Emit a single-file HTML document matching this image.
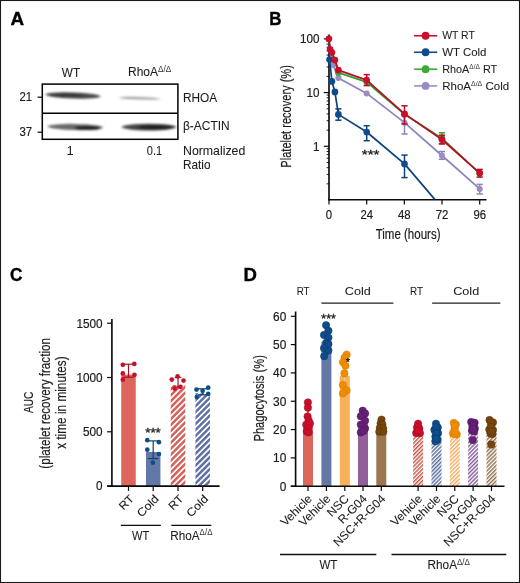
<!DOCTYPE html>
<html lang="en">
<head>
<meta charset="utf-8">
<title>Figure</title>
<style>
html,body{margin:0;padding:0;background:#fff;}
body{width:520px;height:583px;overflow:hidden;}
svg{display:block;font-family:'Liberation Sans', sans-serif;}
</style>
</head>
<body>
<svg width="520" height="583" viewBox="0 0 520 583">
<defs>
<filter id="b1" x="-20%" y="-100%" width="140%" height="300%"><feGaussianBlur stdDeviation="1.6 1.0"/></filter>
<filter id="b2" x="-20%" y="-100%" width="140%" height="300%"><feGaussianBlur stdDeviation="2.2 1.2"/></filter>
<pattern id="hR" width="4.2" height="4.2" patternUnits="userSpaceOnUse" patternTransform="rotate(-45)"><rect width="4.2" height="4.2" fill="#fff"/><rect y="0" width="4.2" height="2.5" fill="#d4645c"/></pattern>
<pattern id="hB" width="4.2" height="4.2" patternUnits="userSpaceOnUse" patternTransform="rotate(-45)"><rect width="4.2" height="4.2" fill="#fff"/><rect y="0" width="4.2" height="2.5" fill="#5f72a3"/></pattern>
<pattern id="dR" width="2.75" height="2.75" patternUnits="userSpaceOnUse" patternTransform="rotate(-45)"><rect width="2.75" height="2.75" fill="#fff"/><rect y="0" width="2.75" height="1.45" fill="#c9554b"/></pattern>
<pattern id="dB" width="2.75" height="2.75" patternUnits="userSpaceOnUse" patternTransform="rotate(-45)"><rect width="2.75" height="2.75" fill="#fff"/><rect y="0" width="2.75" height="1.45" fill="#5a6c9e"/></pattern>
<pattern id="dO" width="2.75" height="2.75" patternUnits="userSpaceOnUse" patternTransform="rotate(-45)"><rect width="2.75" height="2.75" fill="#fff"/><rect y="0" width="2.75" height="1.45" fill="#f3ae60"/></pattern>
<pattern id="dV" width="2.75" height="2.75" patternUnits="userSpaceOnUse" patternTransform="rotate(-45)"><rect width="2.75" height="2.75" fill="#fff"/><rect y="0" width="2.75" height="1.45" fill="#8a5f9b"/></pattern>
<pattern id="dN" width="2.75" height="2.75" patternUnits="userSpaceOnUse" patternTransform="rotate(-45)"><rect width="2.75" height="2.75" fill="#fff"/><rect y="0" width="2.75" height="1.45" fill="#957350"/></pattern>
</defs>
<rect x="0.00" y="0.00" width="520.00" height="583.00" fill="#fff" />
<rect x="0.50" y="0.50" width="519.00" height="582.00" fill="none" stroke="#1a1a1a" stroke-width="1.1" />
<text x="10.60" y="25.00" font-size="18" textLength="13.60" lengthAdjust="spacingAndGlyphs" font-weight="bold" fill="#000" stroke="#000" stroke-width="0.4">A</text>
<text x="269.20" y="24.90" font-size="18" textLength="12.20" lengthAdjust="spacingAndGlyphs" font-weight="bold" fill="#000" stroke="#000" stroke-width="0.35">B</text>
<text x="10.00" y="280.80" font-size="18" textLength="12.40" lengthAdjust="spacingAndGlyphs" font-weight="bold" fill="#000" stroke="#000" stroke-width="0.35">C</text>
<text x="243.50" y="280.80" font-size="18" textLength="13.40" lengthAdjust="spacingAndGlyphs" font-weight="bold" fill="#000" stroke="#000" stroke-width="0.35">D</text>
<rect x="42.30" y="84.10" width="135.60" height="55.20" fill="#fff" stroke="#000" stroke-width="1.5" />
<line x1="42.30" y1="113.20" x2="177.90" y2="113.20" stroke="#000" stroke-width="1.5" />
<g filter="url(#b1)">
<ellipse cx="73.0" cy="95.5" rx="27.5" ry="3.1" fill="#4a4a4a" transform="rotate(2 73 95.5)"/>
<ellipse cx="66" cy="95.2" rx="17" ry="2.0" fill="#333" opacity="0.7"/>
<ellipse cx="75.3" cy="127.0" rx="27.5" ry="3.1" fill="#6a6a6a" transform="rotate(1.2 75.3 127)"/>
<ellipse cx="87.5" cy="127.9" rx="13" ry="2.2" fill="#222"/>
<ellipse cx="149" cy="127.1" rx="27" ry="3.3" fill="#444"/>
<ellipse cx="156" cy="127.3" rx="18" ry="2.4" fill="#1c1c1c" opacity="0.8"/>
</g>
<g filter="url(#b2)">
<ellipse cx="139.5" cy="98.3" rx="20" ry="1.3" fill="#a8a8a8" transform="rotate(1.8 139.5 98.3)"/>
<ellipse cx="130" cy="97.9" rx="9" ry="1.1" fill="#999" opacity="0.5"/>
</g>
<text x="71.00" y="76.60" font-size="12.2" text-anchor="middle" textLength="18.30" lengthAdjust="spacingAndGlyphs" fill="#1c1c1c" stroke="#1c1c1c" stroke-width="0.07">WT</text>
<text x="128.00" y="76.40" font-size="12.0" textLength="43.30" lengthAdjust="spacingAndGlyphs" fill="#1c1c1c" stroke="#1c1c1c" stroke-width="0.07">RhoA<tspan font-size="8.2" dy="-4.2" stroke-width="0" fill="#333">Δ/Δ</tspan></text>
<text x="32.20" y="101.40" font-size="12.3" text-anchor="end" textLength="12.70" lengthAdjust="spacingAndGlyphs" fill="#1c1c1c" stroke="#1c1c1c" stroke-width="0.15">21</text>
<text x="32.20" y="136.40" font-size="12.3" text-anchor="end" textLength="12.70" lengthAdjust="spacingAndGlyphs" fill="#1c1c1c" stroke="#1c1c1c" stroke-width="0.15">37</text>
<line x1="37.60" y1="97.20" x2="42.30" y2="97.20" stroke="#000" stroke-width="1.2" />
<line x1="37.60" y1="132.20" x2="42.30" y2="132.20" stroke="#000" stroke-width="1.2" />
<text x="183.00" y="102.30" font-size="12.2" textLength="34.20" lengthAdjust="spacingAndGlyphs" fill="#1c1c1c" stroke="#1c1c1c" stroke-width="0.07">RHOA</text>
<text x="183.00" y="130.30" font-size="12.2" textLength="46.70" lengthAdjust="spacingAndGlyphs" fill="#1c1c1c" stroke="#1c1c1c" stroke-width="0.07">β-ACTIN</text>
<text x="70.20" y="154.70" font-size="12.3" text-anchor="middle" fill="#1c1c1c" stroke="#1c1c1c" stroke-width="0.07">1</text>
<text x="154.50" y="154.70" font-size="12.3" text-anchor="middle" textLength="15.30" lengthAdjust="spacingAndGlyphs" fill="#1c1c1c" stroke="#1c1c1c" stroke-width="0.07">0.1</text>
<text x="183.00" y="154.60" font-size="12.2" textLength="62.30" lengthAdjust="spacingAndGlyphs" fill="#1c1c1c" stroke="#1c1c1c" stroke-width="0.07">Normalized</text>
<text x="183.00" y="168.90" font-size="12.2" textLength="27.50" lengthAdjust="spacingAndGlyphs" fill="#1c1c1c" stroke="#1c1c1c" stroke-width="0.07">Ratio</text>
<line x1="329.00" y1="34.50" x2="329.00" y2="200.40" stroke="#0a0a0a" stroke-width="1.65" />
<line x1="328.30" y1="199.70" x2="486.50" y2="199.70" stroke="#0a0a0a" stroke-width="1.65" />
<line x1="323.80" y1="38.90" x2="329.00" y2="38.90" stroke="#0a0a0a" stroke-width="1.2" />
<line x1="323.80" y1="92.60" x2="329.00" y2="92.60" stroke="#0a0a0a" stroke-width="1.2" />
<line x1="323.80" y1="146.30" x2="329.00" y2="146.30" stroke="#0a0a0a" stroke-width="1.2" />
<line x1="326.60" y1="183.83" x2="329.00" y2="183.83" stroke="#0a0a0a" stroke-width="0.9" />
<line x1="326.60" y1="174.38" x2="329.00" y2="174.38" stroke="#0a0a0a" stroke-width="0.9" />
<line x1="326.60" y1="167.67" x2="329.00" y2="167.67" stroke="#0a0a0a" stroke-width="0.9" />
<line x1="326.60" y1="162.47" x2="329.00" y2="162.47" stroke="#0a0a0a" stroke-width="0.9" />
<line x1="326.60" y1="158.21" x2="329.00" y2="158.21" stroke="#0a0a0a" stroke-width="0.9" />
<line x1="326.60" y1="154.62" x2="329.00" y2="154.62" stroke="#0a0a0a" stroke-width="0.9" />
<line x1="326.60" y1="151.50" x2="329.00" y2="151.50" stroke="#0a0a0a" stroke-width="0.9" />
<line x1="326.60" y1="148.76" x2="329.00" y2="148.76" stroke="#0a0a0a" stroke-width="0.9" />
<line x1="326.60" y1="130.13" x2="329.00" y2="130.13" stroke="#0a0a0a" stroke-width="0.9" />
<line x1="326.60" y1="120.68" x2="329.00" y2="120.68" stroke="#0a0a0a" stroke-width="0.9" />
<line x1="326.60" y1="113.97" x2="329.00" y2="113.97" stroke="#0a0a0a" stroke-width="0.9" />
<line x1="326.60" y1="108.77" x2="329.00" y2="108.77" stroke="#0a0a0a" stroke-width="0.9" />
<line x1="326.60" y1="104.51" x2="329.00" y2="104.51" stroke="#0a0a0a" stroke-width="0.9" />
<line x1="326.60" y1="100.92" x2="329.00" y2="100.92" stroke="#0a0a0a" stroke-width="0.9" />
<line x1="326.60" y1="97.80" x2="329.00" y2="97.80" stroke="#0a0a0a" stroke-width="0.9" />
<line x1="326.60" y1="95.06" x2="329.00" y2="95.06" stroke="#0a0a0a" stroke-width="0.9" />
<line x1="326.60" y1="76.43" x2="329.00" y2="76.43" stroke="#0a0a0a" stroke-width="0.9" />
<line x1="326.60" y1="66.98" x2="329.00" y2="66.98" stroke="#0a0a0a" stroke-width="0.9" />
<line x1="326.60" y1="60.27" x2="329.00" y2="60.27" stroke="#0a0a0a" stroke-width="0.9" />
<line x1="326.60" y1="55.07" x2="329.00" y2="55.07" stroke="#0a0a0a" stroke-width="0.9" />
<line x1="326.60" y1="50.81" x2="329.00" y2="50.81" stroke="#0a0a0a" stroke-width="0.9" />
<line x1="326.60" y1="47.22" x2="329.00" y2="47.22" stroke="#0a0a0a" stroke-width="0.9" />
<line x1="326.60" y1="44.10" x2="329.00" y2="44.10" stroke="#0a0a0a" stroke-width="0.9" />
<line x1="326.60" y1="41.36" x2="329.00" y2="41.36" stroke="#0a0a0a" stroke-width="0.9" />
<line x1="329.00" y1="199.70" x2="329.00" y2="204.50" stroke="#0a0a0a" stroke-width="1.2" />
<text x="329.00" y="219.00" font-size="12.6" text-anchor="middle" textLength="6.30" lengthAdjust="spacingAndGlyphs" fill="#1c1c1c" stroke="#1c1c1c" stroke-width="0.2">0</text>
<line x1="366.68" y1="199.70" x2="366.68" y2="204.50" stroke="#0a0a0a" stroke-width="1.2" />
<text x="366.68" y="219.00" font-size="12.6" text-anchor="middle" textLength="12.60" lengthAdjust="spacingAndGlyphs" fill="#1c1c1c" stroke="#1c1c1c" stroke-width="0.2">24</text>
<line x1="404.35" y1="199.70" x2="404.35" y2="204.50" stroke="#0a0a0a" stroke-width="1.2" />
<text x="404.35" y="219.00" font-size="12.6" text-anchor="middle" textLength="12.60" lengthAdjust="spacingAndGlyphs" fill="#1c1c1c" stroke="#1c1c1c" stroke-width="0.2">48</text>
<line x1="442.02" y1="199.70" x2="442.02" y2="204.50" stroke="#0a0a0a" stroke-width="1.2" />
<text x="442.02" y="219.00" font-size="12.6" text-anchor="middle" textLength="12.60" lengthAdjust="spacingAndGlyphs" fill="#1c1c1c" stroke="#1c1c1c" stroke-width="0.2">72</text>
<line x1="479.70" y1="199.70" x2="479.70" y2="204.50" stroke="#0a0a0a" stroke-width="1.2" />
<text x="479.70" y="219.00" font-size="12.6" text-anchor="middle" textLength="12.60" lengthAdjust="spacingAndGlyphs" fill="#1c1c1c" stroke="#1c1c1c" stroke-width="0.2">96</text>
<text x="319.40" y="43.20" font-size="12.4" text-anchor="end" textLength="19.50" lengthAdjust="spacingAndGlyphs" fill="#1c1c1c" stroke="#1c1c1c" stroke-width="0.2">100</text>
<text x="319.40" y="96.90" font-size="12.4" text-anchor="end" textLength="13.00" lengthAdjust="spacingAndGlyphs" fill="#1c1c1c" stroke="#1c1c1c" stroke-width="0.2">10</text>
<text x="319.40" y="150.60" font-size="12.4" text-anchor="end" textLength="6.50" lengthAdjust="spacingAndGlyphs" fill="#1c1c1c" stroke="#1c1c1c" stroke-width="0.2">1</text>
<text x="291.00" y="116.40" font-size="14.3" text-anchor="middle" textLength="102.50" lengthAdjust="spacingAndGlyphs" fill="#1c1c1c" stroke="#1c1c1c" stroke-width="0.2" transform="rotate(-90 291.00 116.40)">Platelet recovery (%)</text>
<text x="408.10" y="238.60" font-size="14.3" text-anchor="middle" textLength="64.80" lengthAdjust="spacingAndGlyphs" fill="#1c1c1c" stroke="#1c1c1c" stroke-width="0.2">Time (hours)</text>
<polyline points="328.90,38.80 330.10,49.30 331.90,54.00 333.10,65.10 338.40,78.10 366.70,93.40 404.50,122.70 441.90,155.50 479.70,188.90" fill="none" stroke="#9082bc" stroke-width="1.7" stroke-linejoin="round"/>
<line x1="404.50" y1="114.50" x2="404.50" y2="134.00" stroke="#9082bc" stroke-width="1.5" />
<line x1="401.40" y1="114.50" x2="407.60" y2="114.50" stroke="#9082bc" stroke-width="1.5" />
<line x1="401.40" y1="134.00" x2="407.60" y2="134.00" stroke="#9082bc" stroke-width="1.5" />
<line x1="441.90" y1="151.50" x2="441.90" y2="159.30" stroke="#9082bc" stroke-width="1.5" />
<line x1="438.80" y1="151.50" x2="445.00" y2="151.50" stroke="#9082bc" stroke-width="1.5" />
<line x1="438.80" y1="159.30" x2="445.00" y2="159.30" stroke="#9082bc" stroke-width="1.5" />
<line x1="479.70" y1="184.40" x2="479.70" y2="193.90" stroke="#9082bc" stroke-width="1.5" />
<line x1="476.60" y1="184.40" x2="482.80" y2="184.40" stroke="#9082bc" stroke-width="1.5" />
<line x1="476.60" y1="193.90" x2="482.80" y2="193.90" stroke="#9082bc" stroke-width="1.5" />
<circle cx="333.10" cy="65.10" r="3.0" fill="#9b8bc4" />
<circle cx="338.40" cy="78.10" r="3.0" fill="#9b8bc4" />
<circle cx="366.70" cy="93.40" r="3.0" fill="#9b8bc4" />
<circle cx="404.50" cy="122.70" r="3.0" fill="#9b8bc4" />
<circle cx="441.90" cy="155.50" r="3.0" fill="#9b8bc4" />
<circle cx="479.70" cy="188.90" r="3.0" fill="#9b8bc4" />
<polyline points="328.90,38.80 329.60,59.60 331.90,81.40 334.90,91.90 338.40,114.40 366.70,132.00 404.50,163.90 434.80,199.40" fill="none" stroke="#0d437c" stroke-width="1.7" stroke-linejoin="round"/>
<line x1="338.40" y1="108.90" x2="338.40" y2="120.20" stroke="#0d437c" stroke-width="1.5" />
<line x1="335.30" y1="108.90" x2="341.50" y2="108.90" stroke="#0d437c" stroke-width="1.5" />
<line x1="335.30" y1="120.20" x2="341.50" y2="120.20" stroke="#0d437c" stroke-width="1.5" />
<line x1="366.70" y1="125.70" x2="366.70" y2="140.70" stroke="#0d437c" stroke-width="1.5" />
<line x1="363.60" y1="125.70" x2="369.80" y2="125.70" stroke="#0d437c" stroke-width="1.5" />
<line x1="363.60" y1="140.70" x2="369.80" y2="140.70" stroke="#0d437c" stroke-width="1.5" />
<line x1="404.50" y1="155.10" x2="404.50" y2="177.60" stroke="#0d437c" stroke-width="1.5" />
<line x1="401.40" y1="155.10" x2="407.60" y2="155.10" stroke="#0d437c" stroke-width="1.5" />
<line x1="401.40" y1="177.60" x2="407.60" y2="177.60" stroke="#0d437c" stroke-width="1.5" />
<circle cx="329.60" cy="59.60" r="3.35" fill="#0f4c8a" />
<circle cx="331.90" cy="81.40" r="3.35" fill="#0f4c8a" />
<circle cx="334.90" cy="91.90" r="3.35" fill="#0f4c8a" />
<circle cx="338.40" cy="114.40" r="3.35" fill="#0f4c8a" />
<circle cx="366.70" cy="132.00" r="3.35" fill="#0f4c8a" />
<circle cx="404.50" cy="163.90" r="3.35" fill="#0f4c8a" />
<polyline points="328.90,38.80 330.10,49.30 331.90,52.60 334.90,60.10 338.40,72.60 366.70,82.10 404.50,114.30 441.90,138.20 479.70,173.30" fill="none" stroke="#329f2f" stroke-width="1.7" stroke-linejoin="round"/>
<line x1="441.90" y1="132.80" x2="441.90" y2="143.50" stroke="#329f2f" stroke-width="1.5" />
<line x1="438.80" y1="132.80" x2="445.00" y2="132.80" stroke="#329f2f" stroke-width="1.5" />
<line x1="438.80" y1="143.50" x2="445.00" y2="143.50" stroke="#329f2f" stroke-width="1.5" />
<circle cx="338.40" cy="72.60" r="3.35" fill="#3aaa35" />
<circle cx="366.70" cy="82.10" r="3.35" fill="#3aaa35" />
<circle cx="404.50" cy="114.30" r="3.35" fill="#3aaa35" />
<circle cx="441.90" cy="138.20" r="3.35" fill="#3aaa35" />
<circle cx="479.70" cy="173.30" r="3.35" fill="#3aaa35" />
<polyline points="328.90,38.80 330.10,49.30 331.90,52.60 334.90,60.10 338.40,70.10 366.70,80.10 404.50,113.90 441.90,139.50 479.70,173.10" fill="none" stroke="#b60e27" stroke-width="1.7" stroke-linejoin="round"/>
<line x1="366.70" y1="74.60" x2="366.70" y2="85.60" stroke="#b60e27" stroke-width="1.5" />
<line x1="363.60" y1="74.60" x2="369.80" y2="74.60" stroke="#b60e27" stroke-width="1.5" />
<line x1="363.60" y1="85.60" x2="369.80" y2="85.60" stroke="#b60e27" stroke-width="1.5" />
<line x1="404.50" y1="105.80" x2="404.50" y2="124.00" stroke="#b60e27" stroke-width="1.5" />
<line x1="401.40" y1="105.80" x2="407.60" y2="105.80" stroke="#b60e27" stroke-width="1.5" />
<line x1="401.40" y1="124.00" x2="407.60" y2="124.00" stroke="#b60e27" stroke-width="1.5" />
<line x1="441.90" y1="135.20" x2="441.90" y2="144.00" stroke="#b60e27" stroke-width="1.5" />
<line x1="438.80" y1="135.20" x2="445.00" y2="135.20" stroke="#b60e27" stroke-width="1.5" />
<line x1="438.80" y1="144.00" x2="445.00" y2="144.00" stroke="#b60e27" stroke-width="1.5" />
<line x1="479.70" y1="169.40" x2="479.70" y2="177.10" stroke="#b60e27" stroke-width="1.5" />
<line x1="476.60" y1="169.40" x2="482.80" y2="169.40" stroke="#b60e27" stroke-width="1.5" />
<line x1="476.60" y1="177.10" x2="482.80" y2="177.10" stroke="#b60e27" stroke-width="1.5" />
<circle cx="328.90" cy="38.80" r="3.35" fill="#cb0f2b" />
<circle cx="330.10" cy="49.30" r="3.35" fill="#cb0f2b" />
<circle cx="331.90" cy="52.60" r="3.35" fill="#cb0f2b" />
<circle cx="334.90" cy="60.10" r="3.35" fill="#cb0f2b" />
<circle cx="338.40" cy="70.10" r="3.35" fill="#cb0f2b" />
<circle cx="366.70" cy="80.10" r="3.35" fill="#cb0f2b" />
<circle cx="404.50" cy="113.90" r="3.35" fill="#cb0f2b" />
<circle cx="441.90" cy="139.50" r="3.35" fill="#cb0f2b" />
<circle cx="479.70" cy="173.10" r="3.35" fill="#cb0f2b" />
<text x="370.60" y="159.20" font-size="12.5" text-anchor="middle" textLength="17.70" lengthAdjust="spacingAndGlyphs" fill="#1c1c1c" stroke="#1c1c1c" stroke-width="0.3">***</text>
<line x1="414.10" y1="35.75" x2="437.20" y2="35.75" stroke="#cb0f2b" stroke-width="1.6" />
<circle cx="425.60" cy="35.75" r="3.9" fill="#cb0f2b" />
<text x="442.20" y="39.35" font-size="11.6" textLength="32.60" lengthAdjust="spacingAndGlyphs" fill="#1c1c1c" stroke="#1c1c1c" stroke-width="0.07">WT RT</text>
<line x1="414.10" y1="52.25" x2="437.20" y2="52.25" stroke="#0f4c8a" stroke-width="1.6" />
<circle cx="425.60" cy="52.25" r="3.9" fill="#0f4c8a" />
<text x="442.20" y="55.85" font-size="11.6" textLength="44.20" lengthAdjust="spacingAndGlyphs" fill="#1c1c1c" stroke="#1c1c1c" stroke-width="0.07">WT Cold</text>
<line x1="414.10" y1="69.20" x2="437.20" y2="69.20" stroke="#3aaa35" stroke-width="1.6" />
<circle cx="425.60" cy="69.20" r="3.9" fill="#3aaa35" />
<text x="442.20" y="72.80" font-size="11.6" textLength="55.00" lengthAdjust="spacingAndGlyphs" fill="#1c1c1c" stroke="#1c1c1c" stroke-width="0.07">RhoA<tspan font-size="7.0" dy="-4.0" stroke-width="0" fill="#333">Δ/Δ</tspan><tspan dy="4.0"> RT</tspan></text>
<line x1="414.10" y1="85.90" x2="437.20" y2="85.90" stroke="#9b8bc4" stroke-width="1.6" />
<circle cx="425.60" cy="85.90" r="3.9" fill="#9b8bc4" />
<text x="442.20" y="89.50" font-size="11.6" textLength="66.90" lengthAdjust="spacingAndGlyphs" fill="#1c1c1c" stroke="#1c1c1c" stroke-width="0.07">RhoA<tspan font-size="7.0" dy="-4.0" stroke-width="0" fill="#333">Δ/Δ</tspan><tspan dy="4.0"> Cold</tspan></text>
<rect x="121.25" y="374.60" width="14.50" height="111.50" fill="#dc665c" />
<rect x="145.95" y="452.00" width="14.50" height="34.10" fill="#6478a8" />
<rect x="170.75" y="385.00" width="14.50" height="101.10" fill="url(#hR)" />
<rect x="195.45" y="393.20" width="14.50" height="92.90" fill="url(#hB)" />
<line x1="111.90" y1="318.90" x2="111.90" y2="486.80" stroke="#0a0a0a" stroke-width="1.65" />
<line x1="107.30" y1="486.10" x2="219.60" y2="486.10" stroke="#0a0a0a" stroke-width="1.65" />
<line x1="107.10" y1="486.10" x2="111.90" y2="486.10" stroke="#0a0a0a" stroke-width="1.2" />
<text x="102.60" y="490.40" font-size="12.4" text-anchor="end" textLength="6.55" lengthAdjust="spacingAndGlyphs" fill="#1c1c1c" stroke="#1c1c1c" stroke-width="0.2">0</text>
<line x1="107.10" y1="431.80" x2="111.90" y2="431.80" stroke="#0a0a0a" stroke-width="1.2" />
<text x="102.60" y="436.10" font-size="12.4" text-anchor="end" textLength="19.65" lengthAdjust="spacingAndGlyphs" fill="#1c1c1c" stroke="#1c1c1c" stroke-width="0.2">500</text>
<line x1="107.10" y1="377.50" x2="111.90" y2="377.50" stroke="#0a0a0a" stroke-width="1.2" />
<text x="102.60" y="381.80" font-size="12.4" text-anchor="end" textLength="26.20" lengthAdjust="spacingAndGlyphs" fill="#1c1c1c" stroke="#1c1c1c" stroke-width="0.2">1000</text>
<line x1="107.10" y1="323.20" x2="111.90" y2="323.20" stroke="#0a0a0a" stroke-width="1.2" />
<text x="102.60" y="327.50" font-size="12.4" text-anchor="end" textLength="26.20" lengthAdjust="spacingAndGlyphs" fill="#1c1c1c" stroke="#1c1c1c" stroke-width="0.2">1500</text>
<line x1="128.50" y1="486.10" x2="128.50" y2="490.90" stroke="#0a0a0a" stroke-width="1.2" />
<line x1="153.20" y1="486.10" x2="153.20" y2="490.90" stroke="#0a0a0a" stroke-width="1.2" />
<line x1="178.00" y1="486.10" x2="178.00" y2="490.90" stroke="#0a0a0a" stroke-width="1.2" />
<line x1="202.70" y1="486.10" x2="202.70" y2="490.90" stroke="#0a0a0a" stroke-width="1.2" />
<line x1="128.50" y1="364.20" x2="128.50" y2="377.20" stroke="#a3122a" stroke-width="1.2" />
<line x1="123.30" y1="364.20" x2="133.70" y2="364.20" stroke="#a3122a" stroke-width="1.2" />
<line x1="123.30" y1="377.20" x2="133.70" y2="377.20" stroke="#a3122a" stroke-width="1.2" />
<circle cx="122.80" cy="364.80" r="2.35" fill="#cb0f2b" />
<circle cx="134.30" cy="363.90" r="2.35" fill="#cb0f2b" />
<circle cx="122.80" cy="373.40" r="2.35" fill="#cb0f2b" />
<circle cx="134.50" cy="374.80" r="2.35" fill="#cb0f2b" />
<circle cx="122.80" cy="379.70" r="2.35" fill="#cb0f2b" />
<line x1="153.20" y1="440.90" x2="153.20" y2="458.60" stroke="#123d70" stroke-width="1.2" />
<line x1="148.00" y1="440.90" x2="158.40" y2="440.90" stroke="#123d70" stroke-width="1.2" />
<line x1="148.00" y1="458.60" x2="158.40" y2="458.60" stroke="#123d70" stroke-width="1.2" />
<circle cx="147.30" cy="440.20" r="2.35" fill="#0f4c8a" />
<circle cx="158.90" cy="442.20" r="2.35" fill="#0f4c8a" />
<circle cx="147.30" cy="449.70" r="2.35" fill="#0f4c8a" />
<circle cx="158.90" cy="454.00" r="2.35" fill="#0f4c8a" />
<circle cx="152.90" cy="462.70" r="2.35" fill="#0f4c8a" />
<line x1="178.00" y1="377.40" x2="178.00" y2="387.00" stroke="#a3122a" stroke-width="1.2" />
<line x1="174.70" y1="377.40" x2="181.30" y2="377.40" stroke="#a3122a" stroke-width="1.2" />
<line x1="174.70" y1="387.00" x2="181.30" y2="387.00" stroke="#a3122a" stroke-width="1.2" />
<circle cx="177.60" cy="376.40" r="2.35" fill="#cb0f2b" />
<circle cx="171.80" cy="379.60" r="2.35" fill="#cb0f2b" />
<circle cx="183.50" cy="380.60" r="2.35" fill="#cb0f2b" />
<circle cx="180.40" cy="386.80" r="2.35" fill="#cb0f2b" />
<circle cx="174.70" cy="388.60" r="2.35" fill="#cb0f2b" />
<line x1="202.70" y1="388.80" x2="202.70" y2="394.80" stroke="#123d70" stroke-width="1.2" />
<line x1="197.50" y1="388.80" x2="207.90" y2="388.80" stroke="#123d70" stroke-width="1.2" />
<line x1="197.50" y1="394.80" x2="207.90" y2="394.80" stroke="#123d70" stroke-width="1.2" />
<circle cx="208.20" cy="387.70" r="2.35" fill="#0f4c8a" />
<circle cx="196.50" cy="389.60" r="2.35" fill="#0f4c8a" />
<circle cx="202.60" cy="390.80" r="2.35" fill="#0f4c8a" />
<circle cx="208.20" cy="393.90" r="2.35" fill="#0f4c8a" />
<circle cx="196.80" cy="397.00" r="2.35" fill="#0f4c8a" />
<text x="153.00" y="437.30" font-size="12" text-anchor="middle" textLength="15.60" lengthAdjust="spacingAndGlyphs" fill="#1c1c1c" stroke="#1c1c1c" stroke-width="0.3">***</text>
<text x="32.70" y="402.40" font-size="13.6" text-anchor="middle" textLength="21.40" lengthAdjust="spacingAndGlyphs" fill="#1c1c1c" stroke="#1c1c1c" stroke-width="0.2" transform="rotate(-90 32.70 402.40)">AUC</text>
<text x="49.90" y="403.40" font-size="14.3" text-anchor="middle" textLength="130.60" lengthAdjust="spacingAndGlyphs" fill="#1c1c1c" stroke="#1c1c1c" stroke-width="0.2" transform="rotate(-90 49.90 403.40)">(platelet recovery fraction</text>
<text x="65.80" y="402.60" font-size="14.3" text-anchor="middle" textLength="92.50" lengthAdjust="spacingAndGlyphs" fill="#1c1c1c" stroke="#1c1c1c" stroke-width="0.2" transform="rotate(-90 65.80 402.60)">x time in minutes)</text>
<text x="134.80" y="499.60" font-size="11.4" text-anchor="end" textLength="15.80" lengthAdjust="spacingAndGlyphs" fill="#1c1c1c" stroke="#1c1c1c" stroke-width="0.1" transform="rotate(-45 134.80 499.60)">RT</text>
<text x="159.50" y="499.60" font-size="11.4" text-anchor="end" textLength="25.60" lengthAdjust="spacingAndGlyphs" fill="#1c1c1c" stroke="#1c1c1c" stroke-width="0.1" transform="rotate(-45 159.50 499.60)">Cold</text>
<text x="184.30" y="499.60" font-size="11.4" text-anchor="end" textLength="15.80" lengthAdjust="spacingAndGlyphs" fill="#1c1c1c" stroke="#1c1c1c" stroke-width="0.1" transform="rotate(-45 184.30 499.60)">RT</text>
<text x="209.00" y="499.60" font-size="11.4" text-anchor="end" textLength="25.60" lengthAdjust="spacingAndGlyphs" fill="#1c1c1c" stroke="#1c1c1c" stroke-width="0.1" transform="rotate(-45 209.00 499.60)">Cold</text>
<line x1="120.80" y1="525.30" x2="160.80" y2="525.30" stroke="#0a0a0a" stroke-width="1.3" />
<line x1="171.30" y1="525.30" x2="211.30" y2="525.30" stroke="#0a0a0a" stroke-width="1.3" />
<text x="140.60" y="539.60" font-size="12.0" text-anchor="middle" textLength="17.20" lengthAdjust="spacingAndGlyphs" fill="#1c1c1c" stroke="#1c1c1c" stroke-width="0.07">WT</text>
<text x="170.30" y="539.60" font-size="12.0" textLength="42.20" lengthAdjust="spacingAndGlyphs" fill="#1c1c1c" stroke="#1c1c1c" stroke-width="0.07">RhoA<tspan font-size="8.2" dy="-4.2" stroke-width="0" fill="#333">Δ/Δ</tspan></text>
<rect x="303.00" y="423.90" width="10.00" height="62.30" fill="#dc665c" />
<rect x="321.40" y="341.77" width="10.00" height="144.43" fill="#6478a8" />
<rect x="339.80" y="375.75" width="10.00" height="110.45" fill="#f8b05a" />
<rect x="358.00" y="423.90" width="10.00" height="62.30" fill="#925f9c" />
<rect x="376.30" y="428.14" width="10.00" height="58.06" fill="#9c7651" />
<rect x="413.10" y="432.39" width="10.00" height="53.81" fill="url(#dR)" />
<rect x="431.50" y="432.39" width="10.00" height="53.81" fill="url(#dB)" />
<rect x="449.80" y="429.56" width="10.00" height="56.64" fill="url(#dO)" />
<rect x="468.10" y="429.56" width="10.00" height="56.64" fill="url(#dV)" />
<rect x="486.50" y="430.98" width="10.00" height="55.22" fill="url(#dN)" />
<line x1="295.60" y1="311.50" x2="295.60" y2="486.90" stroke="#0a0a0a" stroke-width="1.65" />
<line x1="290.80" y1="486.20" x2="504.50" y2="486.20" stroke="#0a0a0a" stroke-width="1.65" />
<line x1="290.80" y1="486.20" x2="295.60" y2="486.20" stroke="#0a0a0a" stroke-width="1.2" />
<text x="286.30" y="490.50" font-size="12.4" text-anchor="end" textLength="6.60" lengthAdjust="spacingAndGlyphs" fill="#1c1c1c" stroke="#1c1c1c" stroke-width="0.2">0</text>
<line x1="290.80" y1="457.88" x2="295.60" y2="457.88" stroke="#0a0a0a" stroke-width="1.2" />
<text x="286.30" y="462.18" font-size="12.4" text-anchor="end" textLength="13.20" lengthAdjust="spacingAndGlyphs" fill="#1c1c1c" stroke="#1c1c1c" stroke-width="0.2">10</text>
<line x1="290.80" y1="429.56" x2="295.60" y2="429.56" stroke="#0a0a0a" stroke-width="1.2" />
<text x="286.30" y="433.86" font-size="12.4" text-anchor="end" textLength="13.20" lengthAdjust="spacingAndGlyphs" fill="#1c1c1c" stroke="#1c1c1c" stroke-width="0.2">20</text>
<line x1="290.80" y1="401.24" x2="295.60" y2="401.24" stroke="#0a0a0a" stroke-width="1.2" />
<text x="286.30" y="405.54" font-size="12.4" text-anchor="end" textLength="13.20" lengthAdjust="spacingAndGlyphs" fill="#1c1c1c" stroke="#1c1c1c" stroke-width="0.2">30</text>
<line x1="290.80" y1="372.92" x2="295.60" y2="372.92" stroke="#0a0a0a" stroke-width="1.2" />
<text x="286.30" y="377.22" font-size="12.4" text-anchor="end" textLength="13.20" lengthAdjust="spacingAndGlyphs" fill="#1c1c1c" stroke="#1c1c1c" stroke-width="0.2">40</text>
<line x1="290.80" y1="344.60" x2="295.60" y2="344.60" stroke="#0a0a0a" stroke-width="1.2" />
<text x="286.30" y="348.90" font-size="12.4" text-anchor="end" textLength="13.20" lengthAdjust="spacingAndGlyphs" fill="#1c1c1c" stroke="#1c1c1c" stroke-width="0.2">50</text>
<line x1="290.80" y1="316.28" x2="295.60" y2="316.28" stroke="#0a0a0a" stroke-width="1.2" />
<text x="286.30" y="320.58" font-size="12.4" text-anchor="end" textLength="13.20" lengthAdjust="spacingAndGlyphs" fill="#1c1c1c" stroke="#1c1c1c" stroke-width="0.2">60</text>
<line x1="308.00" y1="486.20" x2="308.00" y2="491.00" stroke="#0a0a0a" stroke-width="1.2" />
<line x1="326.40" y1="486.20" x2="326.40" y2="491.00" stroke="#0a0a0a" stroke-width="1.2" />
<line x1="344.80" y1="486.20" x2="344.80" y2="491.00" stroke="#0a0a0a" stroke-width="1.2" />
<line x1="363.00" y1="486.20" x2="363.00" y2="491.00" stroke="#0a0a0a" stroke-width="1.2" />
<line x1="381.30" y1="486.20" x2="381.30" y2="491.00" stroke="#0a0a0a" stroke-width="1.2" />
<line x1="418.10" y1="486.20" x2="418.10" y2="491.00" stroke="#0a0a0a" stroke-width="1.2" />
<line x1="436.50" y1="486.20" x2="436.50" y2="491.00" stroke="#0a0a0a" stroke-width="1.2" />
<line x1="454.80" y1="486.20" x2="454.80" y2="491.00" stroke="#0a0a0a" stroke-width="1.2" />
<line x1="473.10" y1="486.20" x2="473.10" y2="491.00" stroke="#0a0a0a" stroke-width="1.2" />
<line x1="491.50" y1="486.20" x2="491.50" y2="491.00" stroke="#0a0a0a" stroke-width="1.2" />
<line x1="308.00" y1="411.00" x2="308.00" y2="433.00" stroke="#cb0f2b" stroke-width="1.2" />
<line x1="326.40" y1="330.00" x2="326.40" y2="352.50" stroke="#0f4c8a" stroke-width="1.2" />
<line x1="344.80" y1="361.00" x2="344.80" y2="390.50" stroke="#fbc888" stroke-width="1.2" />
<line x1="363.00" y1="414.00" x2="363.00" y2="432.50" stroke="#651f76" stroke-width="1.2" />
<line x1="381.30" y1="422.00" x2="381.30" y2="432.00" stroke="#77460f" stroke-width="1.2" />
<circle cx="307.90" cy="402.50" r="3.7" fill="#cb0f2b" stroke="#9c0c22" stroke-width="0.5"/>
<circle cx="307.90" cy="407.70" r="3.7" fill="#cb0f2b" stroke="#9c0c22" stroke-width="0.5"/>
<circle cx="307.60" cy="416.50" r="3.7" fill="#cb0f2b" stroke="#9c0c22" stroke-width="0.5"/>
<circle cx="308.60" cy="420.50" r="3.7" fill="#cb0f2b" stroke="#9c0c22" stroke-width="0.5"/>
<circle cx="306.20" cy="424.60" r="3.7" fill="#cb0f2b" stroke="#9c0c22" stroke-width="0.5"/>
<circle cx="310.00" cy="423.50" r="3.7" fill="#cb0f2b" stroke="#9c0c22" stroke-width="0.5"/>
<circle cx="308.00" cy="428.00" r="3.7" fill="#cb0f2b" stroke="#9c0c22" stroke-width="0.5"/>
<circle cx="306.80" cy="431.50" r="3.7" fill="#cb0f2b" stroke="#9c0c22" stroke-width="0.5"/>
<circle cx="308.60" cy="432.40" r="3.7" fill="#cb0f2b" stroke="#9c0c22" stroke-width="0.5"/>
<circle cx="326.10" cy="325.20" r="3.7" fill="#0f4c8a" stroke="#0a386a" stroke-width="0.5"/>
<circle cx="328.40" cy="330.80" r="3.7" fill="#0f4c8a" stroke="#0a386a" stroke-width="0.5"/>
<circle cx="324.00" cy="335.00" r="3.7" fill="#0f4c8a" stroke="#0a386a" stroke-width="0.5"/>
<circle cx="328.40" cy="337.60" r="3.7" fill="#0f4c8a" stroke="#0a386a" stroke-width="0.5"/>
<circle cx="326.30" cy="342.60" r="3.7" fill="#0f4c8a" stroke="#0a386a" stroke-width="0.5"/>
<circle cx="328.40" cy="344.00" r="3.7" fill="#0f4c8a" stroke="#0a386a" stroke-width="0.5"/>
<circle cx="324.00" cy="348.20" r="3.7" fill="#0f4c8a" stroke="#0a386a" stroke-width="0.5"/>
<circle cx="328.40" cy="350.60" r="3.7" fill="#0f4c8a" stroke="#0a386a" stroke-width="0.5"/>
<circle cx="324.20" cy="356.20" r="3.7" fill="#0f4c8a" stroke="#0a386a" stroke-width="0.5"/>
<circle cx="346.70" cy="354.60" r="3.7" fill="#f08c00" stroke="#d27a00" stroke-width="0.5"/>
<circle cx="344.60" cy="357.60" r="3.7" fill="#f08c00" stroke="#d27a00" stroke-width="0.5"/>
<circle cx="343.00" cy="362.20" r="3.7" fill="#f08c00" stroke="#d27a00" stroke-width="0.5"/>
<circle cx="345.40" cy="365.80" r="3.7" fill="#f08c00" stroke="#d27a00" stroke-width="0.5"/>
<circle cx="344.40" cy="373.30" r="3.7" fill="#f08c00" stroke="#d27a00" stroke-width="0.5"/>
<circle cx="342.90" cy="384.90" r="3.7" fill="#f08c00" stroke="#d27a00" stroke-width="0.5"/>
<circle cx="346.60" cy="390.40" r="3.7" fill="#f08c00" stroke="#d27a00" stroke-width="0.5"/>
<circle cx="342.90" cy="393.40" r="3.7" fill="#f08c00" stroke="#d27a00" stroke-width="0.5"/>
<circle cx="362.70" cy="410.60" r="3.7" fill="#651f76" stroke="#4c1459" stroke-width="0.5"/>
<circle cx="365.10" cy="413.50" r="3.7" fill="#651f76" stroke="#4c1459" stroke-width="0.5"/>
<circle cx="360.80" cy="416.30" r="3.7" fill="#651f76" stroke="#4c1459" stroke-width="0.5"/>
<circle cx="365.10" cy="420.80" r="3.7" fill="#651f76" stroke="#4c1459" stroke-width="0.5"/>
<circle cx="360.80" cy="424.60" r="3.7" fill="#651f76" stroke="#4c1459" stroke-width="0.5"/>
<circle cx="365.10" cy="428.50" r="3.7" fill="#651f76" stroke="#4c1459" stroke-width="0.5"/>
<circle cx="360.80" cy="432.50" r="3.7" fill="#651f76" stroke="#4c1459" stroke-width="0.5"/>
<circle cx="363.50" cy="431.00" r="3.7" fill="#651f76" stroke="#4c1459" stroke-width="0.5"/>
<circle cx="381.50" cy="419.60" r="3.7" fill="#77460f" stroke="#5a340a" stroke-width="0.5"/>
<circle cx="380.60" cy="423.50" r="3.7" fill="#77460f" stroke="#5a340a" stroke-width="0.5"/>
<circle cx="382.40" cy="424.50" r="3.7" fill="#77460f" stroke="#5a340a" stroke-width="0.5"/>
<circle cx="379.80" cy="428.00" r="3.7" fill="#77460f" stroke="#5a340a" stroke-width="0.5"/>
<circle cx="383.20" cy="428.50" r="3.7" fill="#77460f" stroke="#5a340a" stroke-width="0.5"/>
<circle cx="379.30" cy="431.80" r="3.7" fill="#77460f" stroke="#5a340a" stroke-width="0.5"/>
<circle cx="383.40" cy="431.80" r="3.7" fill="#77460f" stroke="#5a340a" stroke-width="0.5"/>
<circle cx="418.10" cy="423.80" r="3.7" fill="#cb0f2b" stroke="#9c0c22" stroke-width="0.5"/>
<circle cx="417.00" cy="427.50" r="3.7" fill="#cb0f2b" stroke="#9c0c22" stroke-width="0.5"/>
<circle cx="419.30" cy="428.50" r="3.7" fill="#cb0f2b" stroke="#9c0c22" stroke-width="0.5"/>
<circle cx="416.20" cy="433.00" r="3.7" fill="#cb0f2b" stroke="#9c0c22" stroke-width="0.5"/>
<circle cx="420.00" cy="433.20" r="3.7" fill="#cb0f2b" stroke="#9c0c22" stroke-width="0.5"/>
<circle cx="418.00" cy="432.00" r="3.7" fill="#cb0f2b" stroke="#9c0c22" stroke-width="0.5"/>
<circle cx="418.10" cy="427.00" r="3.7" fill="#cb0f2b" stroke="#9c0c22" stroke-width="0.5"/>
<circle cx="418.00" cy="430.50" r="3.7" fill="#cb0f2b" stroke="#9c0c22" stroke-width="0.5"/>
<circle cx="436.00" cy="423.80" r="3.7" fill="#0f4c8a" stroke="#0a386a" stroke-width="0.5"/>
<circle cx="437.80" cy="427.50" r="3.7" fill="#0f4c8a" stroke="#0a386a" stroke-width="0.5"/>
<circle cx="434.40" cy="429.80" r="3.7" fill="#0f4c8a" stroke="#0a386a" stroke-width="0.5"/>
<circle cx="438.00" cy="433.00" r="3.7" fill="#0f4c8a" stroke="#0a386a" stroke-width="0.5"/>
<circle cx="435.50" cy="436.50" r="3.7" fill="#0f4c8a" stroke="#0a386a" stroke-width="0.5"/>
<circle cx="437.50" cy="440.00" r="3.7" fill="#0f4c8a" stroke="#0a386a" stroke-width="0.5"/>
<circle cx="435.50" cy="441.30" r="3.7" fill="#0f4c8a" stroke="#0a386a" stroke-width="0.5"/>
<circle cx="436.20" cy="427.00" r="3.7" fill="#0f4c8a" stroke="#0a386a" stroke-width="0.5"/>
<circle cx="436.30" cy="433.50" r="3.7" fill="#0f4c8a" stroke="#0a386a" stroke-width="0.5"/>
<circle cx="436.40" cy="438.50" r="3.7" fill="#0f4c8a" stroke="#0a386a" stroke-width="0.5"/>
<circle cx="453.80" cy="422.90" r="3.7" fill="#f08c00" stroke="#d27a00" stroke-width="0.5"/>
<circle cx="455.80" cy="424.50" r="3.7" fill="#f08c00" stroke="#d27a00" stroke-width="0.5"/>
<circle cx="454.50" cy="428.50" r="3.7" fill="#f08c00" stroke="#d27a00" stroke-width="0.5"/>
<circle cx="453.00" cy="433.50" r="3.7" fill="#f08c00" stroke="#d27a00" stroke-width="0.5"/>
<circle cx="456.80" cy="434.50" r="3.7" fill="#f08c00" stroke="#d27a00" stroke-width="0.5"/>
<circle cx="454.50" cy="434.00" r="3.7" fill="#f08c00" stroke="#d27a00" stroke-width="0.5"/>
<circle cx="454.80" cy="426.00" r="3.7" fill="#f08c00" stroke="#d27a00" stroke-width="0.5"/>
<circle cx="454.80" cy="431.50" r="3.7" fill="#f08c00" stroke="#d27a00" stroke-width="0.5"/>
<circle cx="471.20" cy="422.00" r="3.7" fill="#651f76" stroke="#4c1459" stroke-width="0.5"/>
<circle cx="474.60" cy="422.80" r="3.7" fill="#651f76" stroke="#4c1459" stroke-width="0.5"/>
<circle cx="472.40" cy="426.50" r="3.7" fill="#651f76" stroke="#4c1459" stroke-width="0.5"/>
<circle cx="474.90" cy="428.50" r="3.7" fill="#651f76" stroke="#4c1459" stroke-width="0.5"/>
<circle cx="472.00" cy="430.50" r="3.7" fill="#651f76" stroke="#4c1459" stroke-width="0.5"/>
<circle cx="474.00" cy="431.40" r="3.7" fill="#651f76" stroke="#4c1459" stroke-width="0.5"/>
<circle cx="472.80" cy="440.10" r="3.7" fill="#651f76" stroke="#4c1459" stroke-width="0.5"/>
<circle cx="473.00" cy="424.50" r="3.7" fill="#651f76" stroke="#4c1459" stroke-width="0.5"/>
<circle cx="473.20" cy="429.00" r="3.7" fill="#651f76" stroke="#4c1459" stroke-width="0.5"/>
<circle cx="489.50" cy="420.00" r="3.7" fill="#77460f" stroke="#5a340a" stroke-width="0.5"/>
<circle cx="493.00" cy="422.50" r="3.7" fill="#77460f" stroke="#5a340a" stroke-width="0.5"/>
<circle cx="491.00" cy="424.50" r="3.7" fill="#77460f" stroke="#5a340a" stroke-width="0.5"/>
<circle cx="489.30" cy="429.50" r="3.7" fill="#77460f" stroke="#5a340a" stroke-width="0.5"/>
<circle cx="493.00" cy="430.00" r="3.7" fill="#77460f" stroke="#5a340a" stroke-width="0.5"/>
<circle cx="490.50" cy="433.50" r="3.7" fill="#77460f" stroke="#5a340a" stroke-width="0.5"/>
<circle cx="492.50" cy="434.00" r="3.7" fill="#77460f" stroke="#5a340a" stroke-width="0.5"/>
<circle cx="491.30" cy="444.50" r="3.7" fill="#77460f" stroke="#5a340a" stroke-width="0.5"/>
<circle cx="491.20" cy="422.00" r="3.7" fill="#77460f" stroke="#5a340a" stroke-width="0.5"/>
<circle cx="491.20" cy="427.00" r="3.7" fill="#77460f" stroke="#5a340a" stroke-width="0.5"/>
<circle cx="491.50" cy="431.50" r="3.7" fill="#77460f" stroke="#5a340a" stroke-width="0.5"/>
<text x="328.60" y="323.20" font-size="12" text-anchor="middle" textLength="14.50" lengthAdjust="spacingAndGlyphs" fill="#1c1c1c" stroke="#1c1c1c" stroke-width="0.3">***</text>
<text x="347.90" y="365.60" font-size="11" text-anchor="middle" fill="#000" stroke="#000" stroke-width="0.2">*</text>
<text x="303.10" y="295.00" font-size="11.8" text-anchor="middle" textLength="12.80" lengthAdjust="spacingAndGlyphs" fill="#1c1c1c" stroke="#1c1c1c" stroke-width="0.07">RT</text>
<text x="357.80" y="295.00" font-size="11.8" text-anchor="middle" textLength="26.00" lengthAdjust="spacingAndGlyphs" fill="#1c1c1c" stroke="#1c1c1c" stroke-width="0.07">Cold</text>
<text x="416.50" y="295.00" font-size="11.8" text-anchor="middle" textLength="13.00" lengthAdjust="spacingAndGlyphs" fill="#1c1c1c" stroke="#1c1c1c" stroke-width="0.07">RT</text>
<text x="466.20" y="295.00" font-size="11.8" text-anchor="middle" textLength="26.00" lengthAdjust="spacingAndGlyphs" fill="#1c1c1c" stroke="#1c1c1c" stroke-width="0.07">Cold</text>
<line x1="321.40" y1="303.00" x2="393.40" y2="303.00" stroke="#222" stroke-width="1.25" />
<line x1="432.10" y1="303.00" x2="500.30" y2="303.00" stroke="#222" stroke-width="1.25" />
<text x="312.80" y="499.50" font-size="12.0" text-anchor="end" fill="#1c1c1c" stroke="#1c1c1c" stroke-width="0.07" transform="rotate(-45 312.80 499.50)">Vehicle</text>
<text x="331.20" y="499.50" font-size="12.0" text-anchor="end" fill="#1c1c1c" stroke="#1c1c1c" stroke-width="0.07" transform="rotate(-45 331.20 499.50)">Vehicle</text>
<text x="349.60" y="499.50" font-size="12.0" text-anchor="end" fill="#1c1c1c" stroke="#1c1c1c" stroke-width="0.07" transform="rotate(-45 349.60 499.50)">NSC</text>
<text x="367.80" y="499.50" font-size="12.0" text-anchor="end" fill="#1c1c1c" stroke="#1c1c1c" stroke-width="0.07" transform="rotate(-45 367.80 499.50)">R-G04</text>
<text x="386.10" y="499.50" font-size="12.0" text-anchor="end" fill="#1c1c1c" stroke="#1c1c1c" stroke-width="0.07" transform="rotate(-45 386.10 499.50)">NSC+R-G04</text>
<text x="422.90" y="499.50" font-size="12.0" text-anchor="end" fill="#1c1c1c" stroke="#1c1c1c" stroke-width="0.07" transform="rotate(-45 422.90 499.50)">Vehicle</text>
<text x="441.30" y="499.50" font-size="12.0" text-anchor="end" fill="#1c1c1c" stroke="#1c1c1c" stroke-width="0.07" transform="rotate(-45 441.30 499.50)">Vehicle</text>
<text x="459.60" y="499.50" font-size="12.0" text-anchor="end" fill="#1c1c1c" stroke="#1c1c1c" stroke-width="0.07" transform="rotate(-45 459.60 499.50)">NSC</text>
<text x="477.90" y="499.50" font-size="12.0" text-anchor="end" fill="#1c1c1c" stroke="#1c1c1c" stroke-width="0.07" transform="rotate(-45 477.90 499.50)">R-G04</text>
<text x="496.30" y="499.50" font-size="12.0" text-anchor="end" fill="#1c1c1c" stroke="#1c1c1c" stroke-width="0.07" transform="rotate(-45 496.30 499.50)">NSC+R-G04</text>
<line x1="280.00" y1="554.40" x2="376.30" y2="554.40" stroke="#111" stroke-width="1.5" />
<line x1="391.50" y1="554.40" x2="506.30" y2="554.40" stroke="#111" stroke-width="1.5" />
<text x="328.40" y="569.40" font-size="12.0" text-anchor="middle" textLength="18.00" lengthAdjust="spacingAndGlyphs" fill="#1c1c1c" stroke="#1c1c1c" stroke-width="0.07">WT</text>
<text x="427.50" y="569.40" font-size="12.0" textLength="42.50" lengthAdjust="spacingAndGlyphs" fill="#1c1c1c" stroke="#1c1c1c" stroke-width="0.07">RhoA<tspan font-size="8.2" dy="-4.2" stroke-width="0" fill="#333">Δ/Δ</tspan></text>
<text x="264.20" y="398.30" font-size="14.3" text-anchor="middle" textLength="86.30" lengthAdjust="spacingAndGlyphs" fill="#1c1c1c" stroke="#1c1c1c" stroke-width="0.2" transform="rotate(-90 264.20 398.30)">Phagocytosis (%)</text>
</svg>
</body>
</html>
